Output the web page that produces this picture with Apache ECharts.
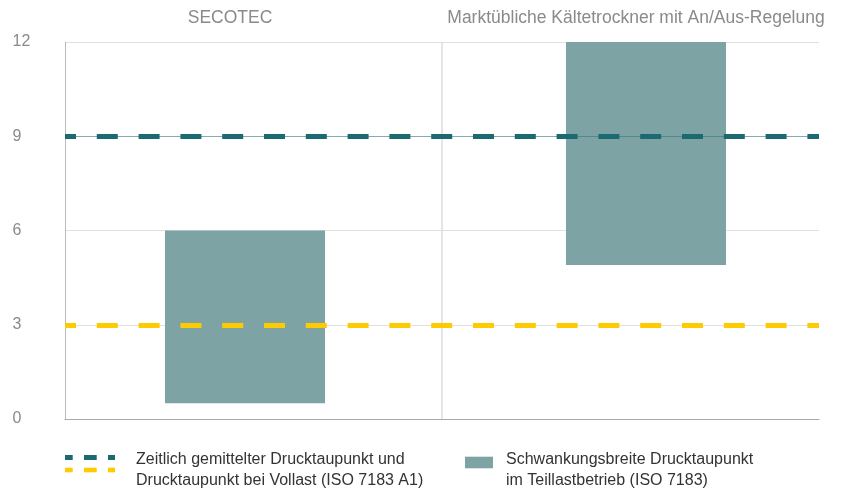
<!DOCTYPE html>
<html>
<head>
<meta charset="utf-8">
<script src="https://cdn.jsdelivr.net/npm/echarts@6/dist/echarts.min.js"></script>
<style>html,body{margin:0;padding:0;background:#fff}#c{width:848px;height:492px}</style>
</head>
<body>
<div id="c"></div>
<script>
// ---- data ----
const categories = ['SECOTEC', 'Marktübliche Kältetrockner mit An/Aus-Regelung'];
const rangeLow = [0.5, 4.9];
const rangeHigh = [6, 12];
const meanLevel = 9;      // teal dashed line
const fullLoadLevel = 3;  // yellow dashed line
const yTicks = [0, 3, 6, 9, 12];
const legendLineName = 'Zeitlich gemittelter Drucktaupunkt und\nDrucktaupunkt bei Vollast (ISO 7183 A1)';
const legendBarName = 'Schwankungsbreite Drucktaupunkt\nim Teillastbetrieb (ISO 7183)';

// ---- styles ----
const TEAL = '#1b6a72';
const YELLOW = '#fecb00';
const BAR = '#7ea3a5';
const FONT = '"Liberation Sans", Arial, Helvetica, sans-serif';

function svgIcon(svg) {
  return 'image://data:image/svg+xml;utf8,' + encodeURIComponent(svg);
}
const lineIcon = svgIcon(
  '<svg xmlns="http://www.w3.org/2000/svg" width="66" height="42" viewBox="0 0 66 42">' +
  '<rect x="0" y="5.5" width="7.7" height="5" fill="' + TEAL + '"/>' +
  '<rect x="19" y="5.5" width="12.7" height="5" fill="' + TEAL + '"/>' +
  '<rect x="43" y="5.5" width="7" height="5" fill="' + TEAL + '"/>' +
  '<rect x="0" y="18.2" width="7.7" height="4.6" fill="' + YELLOW + '"/>' +
  '<rect x="19" y="18.2" width="12.7" height="4.6" fill="' + YELLOW + '"/>' +
  '<rect x="43" y="18.2" width="7" height="4.6" fill="' + YELLOW + '"/>' +
  '</svg>');
const barIcon = svgIcon(
  '<svg xmlns="http://www.w3.org/2000/svg" width="36" height="42" viewBox="0 0 36 42">' +
  '<rect x="0" y="7.2" width="28" height="11.6" fill="' + BAR + '"/>' +
  '</svg>');

const rangeSize = rangeHigh.map((h, i) => +(h - rangeLow[i]).toFixed(3));
const yMin = yTicks[0], yMax = yTicks[yTicks.length - 1], yStep = yTicks[1] - yTicks[0];

const topLabelRich = {
  l0: {fontSize: 17.5, color: '#8a8a8a', fontFamily: FONT, padding: [0, 47, 0, 0]},
  l1: {fontSize: 17.5, color: '#8a8a8a', fontFamily: FONT, padding: [0, 0, 0, 11]}
};

const chart = echarts.init(document.getElementById('c'), null, {renderer: 'canvas'});
chart.setOption({
  animation: false,
  textStyle: {fontFamily: FONT},
  grid: [
    {left: 65, right: 29, top: 42, bottom: 73, containLabel: false},
    {left: 44.5, right: 1.5, top: 42, bottom: 73, containLabel: false}
  ],
  legend: [
    {
      left: 65, top: 449.5, padding: 0,
      itemWidth: 66, itemHeight: 42,
      data: [{name: legendLineName, icon: lineIcon}],
      textStyle: {fontSize: 16, color: '#333', lineHeight: 21, fontFamily: FONT},
      selectedMode: false
    },
    {
      left: 465, top: 449.5, padding: 0,
      itemWidth: 36, itemHeight: 42,
      data: [{name: legendBarName, icon: barIcon}],
      textStyle: {fontSize: 16, color: '#333', lineHeight: 21, fontFamily: FONT},
      selectedMode: false
    }
  ],
  xAxis: [
    {
      type: 'category', data: categories, position: 'bottom', gridIndex: 0,
      axisLine: {show: true, lineStyle: {color: '#aaa', width: 1}},
      axisTick: {show: false},
      axisLabel: {show: false},
      splitLine: {show: true, showMinLine: false, showMaxLine: false, lineStyle: {color: '#dcdcdc', width: 1.5}}
    },
    {
      type: 'category', data: categories, position: 'top', gridIndex: 0,
      axisLine: {show: false}, axisTick: {show: false}, splitLine: {show: false},
      axisLabel: {
        show: true, interval: 0, hideOverlap: false, margin: 15,
        formatter: (v, i) => '{l' + i + '|' + v + '}',
        rich: topLabelRich
      }
    },
    {
      type: 'category', data: categories, gridIndex: 1, show: false
    }
  ],
  yAxis: [
    {
      type: 'value', min: yMin, max: yMax, interval: yStep, gridIndex: 0,
      axisLine: {show: true, lineStyle: {color: '#bbb', width: 1}},
      axisTick: {show: false},
      axisLabel: {fontSize: 16, color: '#8a8a8a', align: 'left', margin: 52.5, padding: [0, 0, 9, 0], fontFamily: FONT},
      splitLine: {show: true, lineStyle: {color: '#e0e0e0', width: 1}}
    },
    {
      type: 'value', min: yMin, max: yMax, interval: yStep, gridIndex: 1, show: false,
      splitLine: {show: false}
    }
  ],
  series: [
    {
      name: 'base', type: 'bar', stack: 'range', xAxisIndex: 2, yAxisIndex: 1,
      data: rangeLow, barWidth: 160,
      itemStyle: {color: 'transparent'}, silent: true
    },
    {
      name: legendBarName, type: 'bar', stack: 'range', xAxisIndex: 2, yAxisIndex: 1,
      data: rangeSize, barWidth: 160,
      itemStyle: {color: BAR}
    },
    {
      name: legendLineName, type: 'line', xAxisIndex: 0, yAxisIndex: 0, data: [null, null], z: 5,
      symbol: 'none', lineStyle: {color: TEAL}, itemStyle: {color: TEAL},
      markLine: {
        silent: true, symbol: 'none', label: {show: false}, animation: false,
        data: [
          {yAxis: meanLevel, lineStyle: {color: TEAL, width: 1, type: 'solid', opacity: 0.45}},
          {yAxis: meanLevel, lineStyle: {color: TEAL, width: 5, type: [21, 20.8], dashOffset: 10, cap: 'butt'}}
        ]
      }
    },
    {
      name: 'vollast', type: 'line', xAxisIndex: 0, yAxisIndex: 0, data: [null, null], z: 5,
      symbol: 'none', lineStyle: {color: YELLOW},
      markLine: {
        silent: true, symbol: 'none', label: {show: false}, animation: false,
        data: [
          {yAxis: fullLoadLevel, lineStyle: {color: YELLOW, width: 5, type: [21, 20.8], dashOffset: 10, cap: 'butt'}}
        ]
      }
    }
  ]
});
</script>
</body>
</html>
